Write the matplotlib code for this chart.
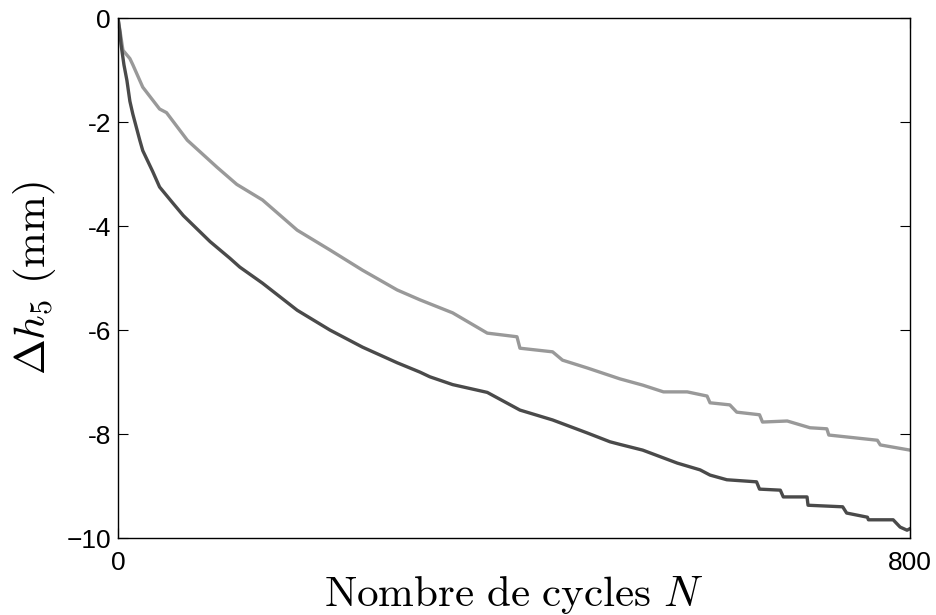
import matplotlib
matplotlib.use("Agg")
import matplotlib.pyplot as plt

# light gray curve
n_light = [0, 5, 12, 15, 25, 42, 49, 70, 100, 120, 146, 181, 214, 247, 282,
           305, 338, 373, 403, 406, 439, 449, 474, 507, 530, 551, 575, 595,
           598, 618, 625, 648, 651, 676, 699, 716, 718, 767, 770, 800]
h_light = [0, -0.62, -0.78, -0.9, -1.33, -1.75, -1.82, -2.35, -2.87, -3.2,
           -3.5, -4.08, -4.46, -4.85, -5.23, -5.42, -5.67, -6.06, -6.13,
           -6.35, -6.42, -6.58, -6.73, -6.94, -7.06, -7.19, -7.19, -7.27,
           -7.4, -7.44, -7.58, -7.63, -7.77, -7.75, -7.88, -7.9, -8.02,
           -8.12, -8.21, -8.31]

# dark gray curve
n_dark = [0, 2, 3, 6, 9, 12, 15, 22, 25, 35, 42, 55, 66, 93, 113, 123, 146,
          181, 214, 247, 282, 305, 315, 338, 373, 406, 439, 474, 497, 507,
          530, 565, 588, 598, 615, 645, 648, 669, 672, 696, 697, 732, 736,
          757, 758, 783, 790, 797, 800]
h_dark = [0, -0.29, -0.5, -0.9, -1.2, -1.6, -1.85, -2.35, -2.55, -2.95,
          -3.25, -3.55, -3.8, -4.3, -4.62, -4.79, -5.1, -5.62, -6.0, -6.33,
          -6.63, -6.81, -6.9, -7.05, -7.2, -7.54, -7.73, -7.98, -8.15, -8.2,
          -8.31, -8.56, -8.69, -8.79, -8.88, -8.92, -9.06, -9.08, -9.21,
          -9.21, -9.37, -9.4, -9.52, -9.6, -9.65, -9.65, -9.79, -9.85, -9.82]

xticks = [0, 800]
yticks = [0, -2, -4, -6, -8, -10]
ytick_labels = ["0", "-2", "-4", "-6", "-8", "\u221210"]

plt.rcParams["mathtext.fontset"] = "cm"
plt.rcParams["font.family"] = ["Liberation Sans", "DejaVu Sans"]

fig = plt.figure(figsize=(9.36, 6.15), dpi=100)
ax = fig.add_axes([118 / 936, 1 - 538 / 615, 792 / 936, 520 / 615])

ax.plot(n_light, h_light, color="#999999", lw=2.4)
ax.plot(n_dark, h_dark, color="#4a4a4a", lw=2.4)

ax.set_xlim(0, 800)
ax.set_ylim(-10, 0)
ax.set_xticks(xticks)
ax.set_yticks(yticks)
ax.set_yticklabels(ytick_labels)
ax.tick_params(direction="in", length=7, width=0.8, labelsize=19,
               top=True, right=True)
ax.tick_params(axis="x", pad=9)
ax.tick_params(axis="y", pad=5)
for s in ax.spines.values():
    s.set_linewidth(1.0)

ax.set_xlabel(r"$\mathrm{Nombre\ de\ cycles}\ N$", fontsize=31, labelpad=0)
ax.set_ylabel(r"$\Delta h_5\ (\mathrm{mm})$", fontsize=31, labelpad=6)

fig.savefig("out.png", dpi=100)
